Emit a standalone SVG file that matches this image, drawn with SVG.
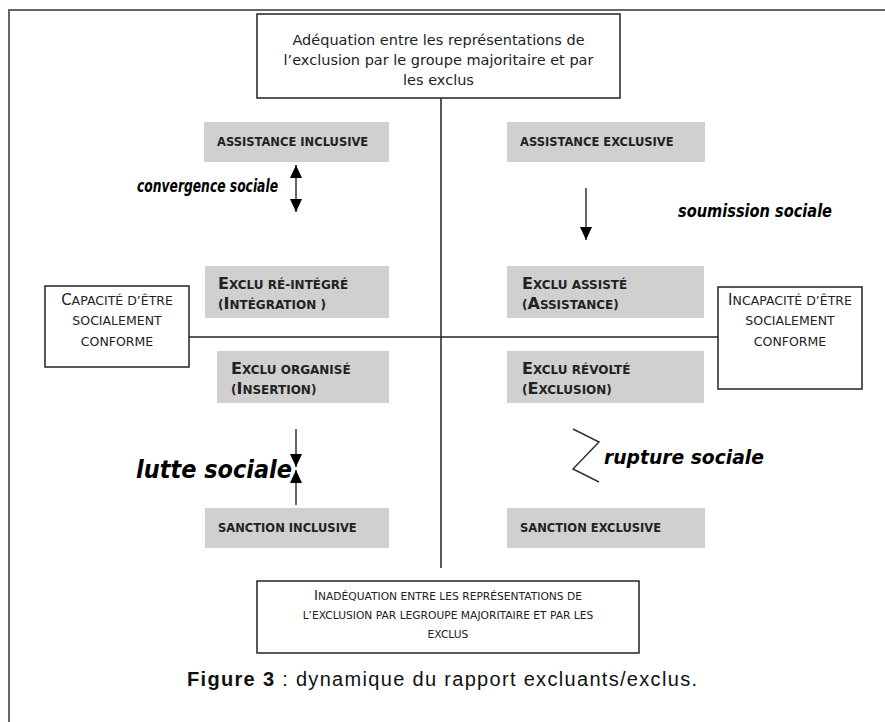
<svg xmlns="http://www.w3.org/2000/svg" width="885" height="722" viewBox="0 0 885 722">
<defs>
<marker id="ah" viewBox="0 0 13 12" refX="13" refY="6" markerWidth="13" markerHeight="12" markerUnits="userSpaceOnUse" orient="auto-start-reverse">
<path d="M0,0 L13,6 L0,12 z" fill="#000"/>
</marker>
<style>
.frame{fill:none;stroke:#666;stroke-width:2}
.wbox{fill:#fff;stroke:#222;stroke-width:1.5}
.gbox{fill:#d0d0d0;stroke:none}
.axis{fill:none;stroke:#222;stroke-width:1.5}
.con{fill:none;stroke:#333;stroke-width:1.5}
.t{font-family:"DejaVu Sans",sans-serif;fill:#222}
.top{font-size:14.5px}
.cap{font-weight:bold;font-size:11.5px}
.sc{font-weight:bold;font-size:12px}
.scb{font-size:16px}
.wsc{font-size:12.5px}
.wscb{font-size:15px}
.bsc{font-size:10.7px}
.bscb{font-size:13.5px}
.lab{font-family:"DejaVu Sans",sans-serif;font-weight:bold;font-style:italic;fill:#000}
.capt{font-family:"Liberation Sans",sans-serif;font-size:20px;fill:#111}
</style>
</defs>
<rect width="885" height="722" fill="#fff"/>
<path class="frame" d="M9,722 L9,10 L885,10"/>

<g id="axes">
<line class="axis" x1="441" y1="98" x2="441" y2="568"/>
<line class="axis" x1="189" y1="337" x2="718" y2="337"/>
</g>

<g id="top-box">
<rect class="wbox" x="257" y="14" width="363" height="84"/>
<text class="t top" text-anchor="middle" x="438.5" y="45">Adéquation entre les représentations de</text>
<text class="t top" text-anchor="middle" x="438.5" y="65">l’exclusion par le groupe majoritaire et par</text>
<text class="t top" text-anchor="middle" x="438.5" y="85">les exclus</text>
</g>

<g id="assistance-inclusive">
<rect class="gbox" x="204" y="122" width="185" height="40"/>
<text class="t cap" x="217" y="146">ASSISTANCE INCLUSIVE</text>
</g>
<g id="assistance-exclusive">
<rect class="gbox" x="507" y="122" width="198" height="40"/>
<text class="t cap" x="520" y="146">ASSISTANCE EXCLUSIVE</text>
</g>

<g id="exclu-reintegre">
<rect class="gbox" x="205" y="266" width="184" height="52"/>
<text class="t sc" x="218" y="289"><tspan class="scb">E</tspan>XCLU RÉ-INTÉGRÉ</text>
<text class="t sc" x="218" y="309">(<tspan class="scb">I</tspan>NTÉGRATION )</text>
</g>
<g id="exclu-assiste">
<rect class="gbox" x="507" y="266" width="197" height="52"/>
<text class="t sc" x="522" y="289"><tspan class="scb">E</tspan>XCLU ASSISTÉ</text>
<text class="t sc" x="522" y="309">(<tspan class="scb">A</tspan>SSISTANCE)</text>
</g>

<g id="capacite">
<rect class="wbox" x="45" y="286" width="144" height="81"/>
<text class="t wsc" text-anchor="middle" x="117" y="305"><tspan class="wscb">C</tspan>APACITÉ D’ÊTRE</text>
<text class="t wsc" text-anchor="middle" x="117" y="325">SOCIALEMENT</text>
<text class="t wsc" text-anchor="middle" x="117" y="346">CONFORME</text>
</g>
<g id="incapacite">
<rect class="wbox" x="718" y="287" width="144" height="102"/>
<text class="t wsc" text-anchor="middle" x="790" y="305"><tspan class="wscb">I</tspan>NCAPACITÉ D’ÊTRE</text>
<text class="t wsc" text-anchor="middle" x="790" y="325">SOCIALEMENT</text>
<text class="t wsc" text-anchor="middle" x="790" y="346">CONFORME</text>
</g>

<g id="exclu-organise">
<rect class="gbox" x="217" y="351" width="172" height="52"/>
<text class="t sc" x="231" y="374"><tspan class="scb">E</tspan>XCLU ORGANISÉ</text>
<text class="t sc" x="231" y="394">(<tspan class="scb">I</tspan>NSERTION)</text>
</g>
<g id="exclu-revolte">
<rect class="gbox" x="507" y="351" width="197" height="52"/>
<text class="t sc" x="522" y="374"><tspan class="scb">E</tspan>XCLU RÉVOLTÉ</text>
<text class="t sc" x="522" y="394">(<tspan class="scb">E</tspan>XCLUSION)</text>
</g>

<g id="sanction-inclusive">
<rect class="gbox" x="205" y="508" width="184" height="40"/>
<text class="t cap" x="218" y="532">SANCTION INCLUSIVE</text>
</g>
<g id="sanction-exclusive">
<rect class="gbox" x="507" y="508" width="198" height="40"/>
<text class="t cap" x="520" y="532">SANCTION EXCLUSIVE</text>
</g>

<g id="bottom-box">
<rect class="wbox" x="257" y="581" width="382" height="72"/>
<text class="t bsc" text-anchor="middle" x="448" y="600"><tspan class="bscb">I</tspan>NADÉQUATION ENTRE LES REPRÉSENTATIONS DE</text>
<text class="t bsc" text-anchor="middle" x="448" y="619">L’EXCLUSION PAR LEGROUPE MAJORITAIRE ET PAR LES</text>
<text class="t bsc" text-anchor="middle" x="448" y="638">EXCLUS</text>
</g>

<g id="connectors">
<line class="con" x1="296" y1="165" x2="296" y2="212" marker-start="url(#ah)" marker-end="url(#ah)"/>
<line class="con" x1="586" y1="188" x2="586" y2="240" marker-end="url(#ah)"/>
<line class="con" x1="296" y1="429" x2="296" y2="467" marker-end="url(#ah)"/>
<line class="con" x1="296" y1="505" x2="296" y2="470" marker-end="url(#ah)"/>
<polyline class="con" points="573,429 599,442 573,469 599,482"/>
</g>

<g id="labels">
<text class="lab" x="137" y="192" font-size="17" textLength="141" lengthAdjust="spacingAndGlyphs">convergence sociale</text>
<text class="lab" x="678" y="217" font-size="18" textLength="154" lengthAdjust="spacingAndGlyphs">soumission sociale</text>
<text class="lab" x="136" y="478" font-size="25" textLength="156" lengthAdjust="spacingAndGlyphs">lutte sociale</text>
<text class="lab" x="604" y="464" font-size="19" textLength="160" lengthAdjust="spacingAndGlyphs">rupture sociale</text>
</g>

<g id="caption">
<text class="capt" x="187" y="686" textLength="510" lengthAdjust="spacing"><tspan font-weight="bold">Figure 3</tspan> : dynamique du rapport excluants/exclus.</text>
</g>
</svg>
